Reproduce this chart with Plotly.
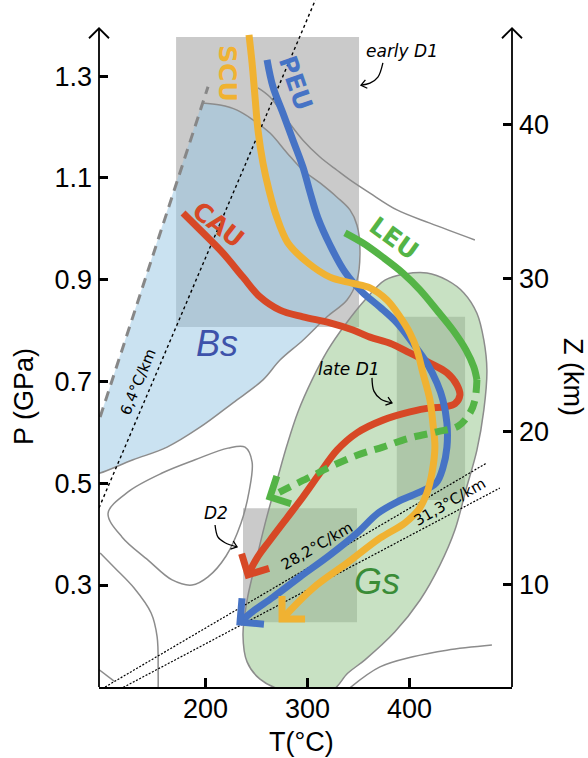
import math
import plotly.graph_objects as go

# ---------------- axes ----------------
T_RANGE = [96.0, 501.0]          # °C
P_RANGE = [0.0996, 1.4495]       # GPa
P_AXIS_TOP = 1.394               # tip of the P / Z axis arrows
GPA_PER_KM = 0.0301              # lithostatic gradient for the depth axis

T_TICKS = [200, 300, 400]
P_TICKS = [0.3, 0.5, 0.7, 0.9, 1.1, 1.3]
P_TICK_TEXT = ["0.3", "0.5", "0.7", "0.9", "1.1", "1.3"]
Z_TICKS = [10, 20, 30, 40]

# ---------------- deformation-stage boxes ----------------
early_d1_T = [171.6, 351.0]
early_d1_P = [0.807, 1.377]
late_d1_T = [388.0, 455.0]
late_d1_P = [0.467, 0.827]
d2_T = [237.2, 349.0]
d2_P = [0.227, 0.451]

# ---------------- facies fields ----------------
# blueschist (Bs): curved boundary from the upper corner round to the P axis
bs_T = [197.1, 214.7, 231.4, 247.0, 263.7, 280.4, 296.0, 312.7, 329.4, 342.1,
        349.0, 351.9, 349.0, 339.2, 319.6, 296.0, 273.5, 256.8, 227.4, 195.1,
        162.8, 129.4, 97.1, 90.0]
bs_P = [1.247, 1.243, 1.233, 1.214, 1.188, 1.149, 1.115, 1.090, 1.062, 1.037,
        1.007, 0.958, 0.899, 0.860, 0.827, 0.781, 0.742, 0.703, 0.658, 0.610,
        0.571, 0.546, 0.520, 0.517]
# dashed low-T limit of the blueschist field
bs_dash_T = [97.1, 202.9]
bs_dash_P = [0.630, 1.279]

# greenschist (Gs) field outline
gs_T = [396.0, 376.4, 356.8, 337.2, 320.5, 304.9, 291.1, 280.4, 270.6, 259.8,
        249.0, 241.2, 237.2, 241.2, 253.9, 275.5, 322.5, 340.1, 356.8, 386.2,
        410.7, 430.3, 445.0, 455.8, 466.6, 473.4, 476.4, 473.4, 466.6, 453.8,
        437.2, 417.6, 396.0]
gs_P = [0.911, 0.899, 0.860, 0.811, 0.762, 0.703, 0.640, 0.575, 0.506, 0.428,
        0.339, 0.270, 0.202, 0.149, 0.115, 0.094, 0.090, 0.127, 0.153, 0.208,
        0.270, 0.339, 0.408, 0.487, 0.565, 0.644, 0.722, 0.781, 0.834, 0.874,
        0.899, 0.913, 0.911]

# other field boundaries (grey lines)
upper_T = [251.9, 263.7, 280.4, 296.0, 312.7, 329.4, 342.1, 361.7, 388.2, 420.5, 464.6]
upper_P = [1.277, 1.259, 1.214, 1.174, 1.141, 1.115, 1.096, 1.070, 1.037, 1.011, 0.978]

loop_T = [104.9, 124.5, 157.9, 190.2, 222.5, 239.2, 246.1, 243.1, 235.3, 220.6,
          202.9, 187.3, 167.7, 144.1, 118.7, 104.9]
loop_P = [0.441, 0.483, 0.520, 0.546, 0.569, 0.571, 0.542, 0.483, 0.422, 0.357,
          0.316, 0.300, 0.310, 0.349, 0.394, 0.441]

left_T = [97.1, 111.8, 130.4, 147.1, 153.0, 154.0, 154.0]
left_P = [0.363, 0.333, 0.294, 0.245, 0.198, 0.127, 0.090]

corner_T = [93.2, 110.8]
corner_P = [0.138, 0.111]

lowright_T = [342.1, 371.5, 403.8, 437.2, 481.3]
lowright_P = [0.098, 0.139, 0.159, 0.172, 0.182]

# ---------------- geotherms ----------------
geo64_rate = 6.4                  # °C/km
geo64_Z = [15.0, 48.3]            # km
geo282_T = [102.0, 476.4]
geo282_P = [0.0996, 0.540]
geo313_T = [116.7, 489.1]
geo313_P = [0.0956, 0.4906]

# ---------------- P-T paths ----------------
scu_T = [243.1, 246.1, 249.0, 251.9, 256.8, 262.7, 269.6, 281.3, 300.9, 322.5,
         344.1, 361.7, 378.4, 391.1, 400.9, 407.8, 413.6, 420.5, 423.4, 425.4,
         422.5, 417.6, 409.7, 396.0, 371.5, 339.2, 305.9, 275.5]
scu_P = [1.381, 1.326, 1.259, 1.194, 1.129, 1.076, 1.027, 0.972, 0.933, 0.905,
         0.893, 0.884, 0.860, 0.827, 0.795, 0.762, 0.717, 0.664, 0.618, 0.571,
         0.520, 0.481, 0.449, 0.422, 0.392, 0.343, 0.294, 0.233]

peu_T = [260.8, 266.6, 276.4, 286.2, 296.0, 302.9, 310.7, 322.5, 337.2, 353.9,
         371.5, 388.2, 403.8, 417.6, 427.4, 433.2, 437.2, 437.2, 433.2, 426.4,
         408.7, 388.2, 369.5, 349.0, 322.5, 293.1, 266.6, 246.1, 234.3]
peu_P = [1.332, 1.279, 1.227, 1.174, 1.121, 1.072, 1.021, 0.968, 0.915, 0.876,
         0.846, 0.815, 0.775, 0.736, 0.697, 0.664, 0.618, 0.571, 0.530, 0.500,
         0.481, 0.463, 0.441, 0.402, 0.359, 0.316, 0.276, 0.247, 0.227]

cau_T = [178.4, 198.0, 217.6, 237.2, 253.9, 273.5, 296.0, 322.5, 345.0, 361.7,
         381.3, 400.9, 420.5, 437.2, 447.0, 449.9, 445.0, 435.2, 420.5, 400.9,
         374.4, 349.0, 329.4, 312.7, 296.0, 280.4, 263.7, 250.9, 242.1]
cau_P = [1.031, 0.992, 0.952, 0.905, 0.866, 0.840, 0.827, 0.815, 0.801, 0.787,
         0.775, 0.756, 0.736, 0.717, 0.693, 0.673, 0.656, 0.650, 0.648, 0.640,
         0.624, 0.599, 0.565, 0.520, 0.473, 0.432, 0.388, 0.353, 0.320]

leu_T = [337.2, 354.8, 374.4, 394.0, 410.7, 427.4, 443.0, 455.8, 463.6, 466.6]
leu_P = [0.992, 0.972, 0.944, 0.913, 0.880, 0.840, 0.801, 0.762, 0.728, 0.703]
leu_late_T = [466.6, 464.6, 459.7, 448.0, 427.4, 400.9, 374.4, 349.0, 322.5, 302.9, 283.3, 263.7]
leu_late_P = [0.703, 0.663, 0.638, 0.612, 0.601, 0.589, 0.571, 0.555, 0.532, 0.512, 0.493, 0.473]

# ---------------- styling ----------------
ORANGE = "rgb(240,178,50)"
BLUE = "rgb(70,115,197)"
RED = "rgb(215,72,38)"
GREEN = "rgb(84,180,70)"
GREY_LINE = "rgb(140,140,140)"
BOX_GREY = "rgb(202,202,202)"

W_PX, H_PX = 588, 758
M_L, M_R, M_T, M_B = 99, 76, 0, 71
PLOT_W = W_PX - M_L - M_R
PLOT_H = H_PX - M_T - M_B
SX = PLOT_W / (T_RANGE[1] - T_RANGE[0])   # px per °C
SY = PLOT_H / (P_RANGE[1] - P_RANGE[0])   # px per GPa


def chevron(T, P, length, half_angle=45.0):
    """Open arrowhead at the last point of a path, aligned with its last segment."""
    t1, p1, t0, p0 = T[-1], P[-1], T[-2], P[-2]
    dx, dy = (t1 - t0) * SX, (p1 - p0) * SY
    n = math.hypot(dx, dy)
    bx, by = -dx / n, -dy / n
    xs, ys = [], []
    for s in (1, -1):
        a = math.radians(s * half_angle)
        rx = bx * math.cos(a) - by * math.sin(a)
        ry = bx * math.sin(a) + by * math.cos(a)
        xs.append(t1 + rx * length / SX)
        ys.append(p1 + ry * length / SY)
    return [xs[0], t1, xs[1]], [ys[0], p1, ys[1]]


def box(Tr, Pr):
    return ([Tr[0], Tr[1], Tr[1], Tr[0], Tr[0]],
            [Pr[0], Pr[0], Pr[1], Pr[1], Pr[0]])


fig = go.Figure()


def add_line(x, y, color, width, dash=None, shape="linear", smoothing=1.0):
    line = dict(color=color, width=width, shape=shape)
    if shape == "spline":
        line["smoothing"] = smoothing
    if dash:
        line["dash"] = dash
    fig.add_trace(go.Scatter(x=x, y=y, mode="lines", line=line,
                             hoverinfo="skip", showlegend=False))


# stage boxes (underneath the translucent facies fields)
for Tr, Pr in [(early_d1_T, early_d1_P), (late_d1_T, late_d1_P), (d2_T, d2_P)]:
    bx_, by_ = box(Tr, Pr)
    fig.add_trace(go.Scatter(x=bx_, y=by_, mode="lines", fill="toself",
                             fillcolor=BOX_GREY, line=dict(width=0),
                             hoverinfo="skip", showlegend=False))

# blueschist field
fig.add_trace(go.Scatter(x=bs_T + [bs_T[-1], bs_dash_T[0]],
                         y=bs_P + [0.586, bs_dash_P[0]],
                         mode="lines", fill="toself",
                         fillcolor="rgba(150,198,228,0.5)", line=dict(width=0),
                         hoverinfo="skip", showlegend=False))
add_line(bs_T, bs_P, GREY_LINE, 1.5, shape="spline")
add_line(bs_dash_T, bs_dash_P, "rgb(135,135,135)", 3, dash="10px,7px")

# greenschist field
fig.add_trace(go.Scatter(x=gs_T, y=gs_P, mode="lines", fill="toself",
                         fillcolor="rgba(145,196,135,0.5)",
                         line=dict(color=GREY_LINE, width=1.5, shape="spline"),
                         hoverinfo="skip", showlegend=False))

# other reaction lines
add_line(upper_T, upper_P, GREY_LINE, 1.5, shape="spline")
add_line(loop_T, loop_P, GREY_LINE, 1.5, shape="spline")
add_line(left_T, left_P, GREY_LINE, 1.5, shape="spline")
add_line(corner_T, corner_P, GREY_LINE, 1.5)
add_line(lowright_T, lowright_P, GREY_LINE, 1.5, shape="spline")

# geotherms
geo64_T = [geo64_rate * z for z in geo64_Z]
geo64_P = [z * GPA_PER_KM for z in geo64_Z]
add_line(geo64_T, geo64_P, "black", 1.4, dash="dot")
add_line(geo282_T, geo282_P, "black", 1.2, dash="2px,1.6px")
add_line(geo313_T, geo313_P, "black", 1.2, dash="2px,1.6px")

# P-T paths
add_line(cau_T, cau_P, RED, 7, shape="spline")
add_line(*chevron(cau_T, cau_P, 22), RED, 7)
add_line(peu_T, peu_P, BLUE, 7, shape="spline")
add_line(*chevron(peu_T, peu_P, 24), BLUE, 7)
add_line(scu_T, scu_P, ORANGE, 7, shape="spline")
add_line(*chevron(scu_T, scu_P, 23), ORANGE, 7)
add_line(leu_T, leu_P, GREEN, 7, shape="spline")
add_line(leu_late_T, leu_late_P, GREEN, 7, dash="13px,8px", shape="spline")
add_line(*chevron(leu_late_T, leu_late_P, 22), GREEN, 7)

# small pointers from the stage labels to their boxes
pointer_early_T = [374.4, 369.5, 361.7, 352.9]
pointer_early_P = [1.326, 1.298, 1.286, 1.282]
pointer_late_T = [363.7, 365.6, 372.5, 383.3]
pointer_late_P = [0.707, 0.681, 0.665, 0.658]
pointer_d2_T = [209.8, 212.7, 219.6, 231.4]
pointer_d2_P = [0.418, 0.394, 0.383, 0.375]
for pt, pp in [(pointer_early_T, pointer_early_P), (pointer_late_T, pointer_late_P),
               (pointer_d2_T, pointer_d2_P)]:
    add_line(pt, pp, "black", 1.3, shape="spline")
    add_line(*chevron(pt, pp, 7, 38), "black", 1.3)

# hidden trace that carries the depth axis
fig.add_trace(go.Scatter(x=[T_RANGE[0]], y=[Z_TICKS[0]], yaxis="y2", mode="markers",
                         marker=dict(opacity=0), hoverinfo="skip", showlegend=False))

# ---------------- labels ----------------
ann = []


def label(x, y, text, color, size, family, angle=0):
    ann.append(dict(x=x, y=y, xref="x", yref="y", text=text, showarrow=False,
                    xanchor="center", yanchor="middle", textangle=angle,
                    font=dict(color=color, size=size, family=family)))


label(222.5, 1.306, "<b>SCU</b>", ORANGE, 25, "DejaVu Sans", 90)
label(289.2, 1.286, "<b>PEU</b>", BLUE, 25, "DejaVu Sans", 71)
label(212.7, 1.009, "<b>CAU</b>", RED, 25, "DejaVu Sans", 38)
label(385.2, 0.980, "<b>LEU</b>", GREEN, 25, "DejaVu Sans", 36)
label(211.8, 0.775, "<i>Bs</i>", "rgb(62,82,170)", 36, "Liberation Sans")
label(368.6, 0.306, "<i>Gs</i>", "rgb(58,140,55)", 36, "Liberation Sans")
label(393.1, 1.349, "<i>early D1</i>", "black", 17, "DejaVu Sans")
label(341.1, 0.724, "<i>late D1</i>", "black", 17, "DejaVu Sans")
label(210.8, 0.441, "<i>D2</i>", "black", 17, "DejaVu Sans")
label(134.3, 0.699, "6,4°C/km", "black", 15, "DejaVu Sans", -67.7)
label(309.8, 0.377, "28,2°C/km", "black", 15, "DejaVu Sans", -30)
label(440.1, 0.463, "31,3°C/km", "black", 15, "DejaVu Sans", -30)

AX_FONT = dict(family="Liberation Sans", size=27, color="black")

# temperature tick labels, set just below the T axis
for t in T_TICKS:
    ann.append(dict(x=t, y=-22 / PLOT_H, xref="x", yref="paper", text=str(t),
                    showarrow=False, xanchor="center", yanchor="middle", font=AX_FONT))

for xp, yp, txt, ang in [(-75, 290, "P (GPa)", -90), (474, 310, "Z (km)", 90),
                         (202, -55, "T(°C)", 0)]:
    ann.append(dict(x=xp / PLOT_W, y=yp / PLOT_H, xref="paper", yref="paper",
                    text=txt, showarrow=False, textangle=ang,
                    xanchor="center", yanchor="middle", font=AX_FONT))

# ---------------- axis lines with open arrowheads ----------------
y_tip = (P_AXIS_TOP - P_RANGE[0]) / (P_RANGE[1] - P_RANGE[0])
ax_dx, ax_dy = 10 / PLOT_W, 10 / PLOT_H
shapes = []
for xp in (0.0, 1.0):
    shapes.append(dict(type="line", xref="paper", yref="paper", x0=xp, x1=xp,
                       y0=0, y1=y_tip, line=dict(color="black", width=1.8)))
    shapes.append(dict(type="path", xref="paper", yref="paper",
                       path=f"M{xp - ax_dx},{y_tip - ax_dy} L{xp},{y_tip} L{xp + ax_dx},{y_tip - ax_dy}",
                       line=dict(color="black", width=1.8)))

tick_common = dict(ticks="inside", ticklen=9, tickwidth=3, tickcolor="black",
                   showgrid=False, zeroline=False, tickfont=AX_FONT)

fig.update_layout(
    width=W_PX, height=H_PX,
    margin=dict(l=M_L, r=M_R, t=M_T, b=M_B),
    paper_bgcolor="white", plot_bgcolor="white",
    showlegend=False,
    xaxis=dict(range=T_RANGE, tickvals=T_TICKS, showline=True, linecolor="black",
               linewidth=1.8, showticklabels=False, **tick_common),
    yaxis=dict(range=P_RANGE, tickvals=P_TICKS, ticktext=P_TICK_TEXT, showline=False,
               ticklabelstandoff=6, **tick_common),
    yaxis2=dict(range=[P_RANGE[0] / GPA_PER_KM, P_RANGE[1] / GPA_PER_KM],
                tickvals=Z_TICKS, overlaying="y", side="right", showline=False,
                ticklabelstandoff=6, **tick_common),
    annotations=ann,
    shapes=shapes,
)

fig.write_html("out.html")
